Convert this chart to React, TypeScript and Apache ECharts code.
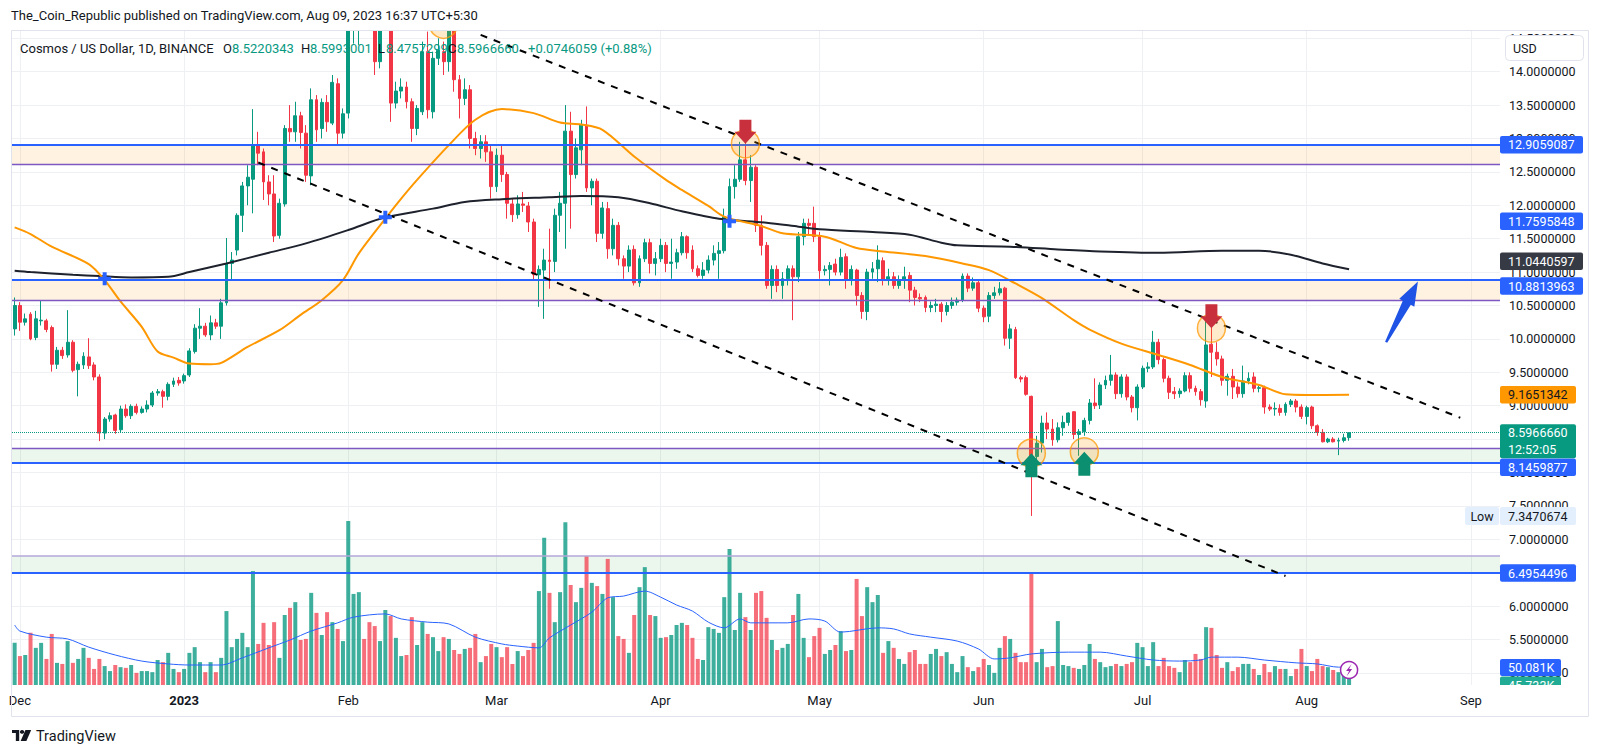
import React, { useEffect, useRef } from 'react';
import * as echarts from 'echarts';

// ---------- categories (one per day) ----------
const FIRST_DAY = '2022-11-30';
const LAST_DAY = '2023-09-06';
function buildDays(first: string, last: string): string[] {
  const out: string[] = [];
  const d = new Date(first + 'T00:00:00Z');
  const end = new Date(last + 'T00:00:00Z');
  while (d.getTime() <= end.getTime()) {
    out.push(d.toISOString().slice(0, 10));
    d.setUTCDate(d.getUTCDate() + 1);
  }
  return out;
}
const days = buildDays(FIRST_DAY, LAST_DAY);
const MONTHS = ['Jan', 'Feb', 'Mar', 'Apr', 'May', 'Jun', 'Jul', 'Aug', 'Sep', 'Oct', 'Nov', 'Dec'];

// ---------- daily candles [open, close, low, high] ----------
const nov22 = [[10.15, 10.5, 10.05, 10.62]];
const dec22 = [
  [10.5, 10.25, 10.12, 10.55], [10.25, 10.3, 10.2, 10.38], [10.37, 10.0, 9.98, 10.4], [10.02, 10.3, 9.98, 10.42],
  [10.27, 10.28, 10.2, 10.58], [10.27, 10.14, 10.1, 10.3], [10.17, 9.62, 9.51, 10.2], [9.62, 9.83, 9.55, 9.88],
  [9.83, 9.75, 9.7, 9.88], [9.76, 9.95, 9.72, 10.43], [9.95, 9.53, 9.5, 9.98], [9.54, 9.62, 9.14, 9.66],
  [9.61, 9.74, 9.55, 9.8], [9.73, 9.6, 9.55, 10.01], [9.61, 9.43, 9.38, 9.65], [9.43, 8.59, 8.47, 9.47],
  [8.59, 8.8, 8.5, 8.83], [8.8, 8.85, 8.76, 8.9], [8.86, 8.63, 8.58, 8.88], [8.64, 8.95, 8.6, 9.0],
  [8.95, 8.85, 8.82, 9.02], [8.85, 8.99, 8.8, 9.02], [8.99, 8.9, 8.87, 9.03], [8.9, 8.95, 8.88, 8.99],
  [8.95, 9.01, 8.9, 9.08], [9.01, 9.19, 8.98, 9.22], [9.19, 9.21, 9.15, 9.25], [9.21, 9.14, 8.97, 9.24],
  [9.14, 9.32, 9.08, 9.35], [9.32, 9.37, 9.28, 9.42], [9.38, 9.34, 9.3, 9.43],
];
const jan23 = [
  [9.37, 9.45, 9.33, 9.48], [9.46, 9.82, 9.43, 9.86], [9.81, 10.16, 9.78, 10.22], [10.16, 10.19, 10.0, 10.46],
  [10.19, 10.06, 10.03, 10.24], [10.06, 10.24, 9.98, 10.35], [10.24, 10.19, 10.15, 10.3], [10.19, 10.54, 10.0, 10.6],
  [10.54, 11.13, 10.5, 11.51], [11.13, 11.18, 10.88, 11.3], [11.33, 11.85, 11.25, 11.88], [11.85, 12.29, 11.6, 12.35],
  [12.29, 12.42, 12.0, 12.6], [12.39, 12.89, 11.88, 13.44], [12.89, 12.78, 12.6, 13.1], [12.8, 12.35, 12.08, 12.85],
  [12.35, 12.17, 12.0, 12.45], [12.17, 11.54, 11.45, 12.45], [11.55, 12.03, 11.5, 12.1], [12.02, 13.15, 11.98, 13.2],
  [13.15, 13.1, 12.95, 13.5], [13.1, 13.34, 12.95, 13.55], [13.34, 13.09, 12.85, 13.4], [13.08, 12.45, 12.35, 13.2],
  [12.44, 13.58, 12.3, 13.75], [13.58, 13.13, 12.95, 13.65], [13.15, 13.54, 13.0, 13.6], [13.54, 13.25, 13.1, 13.65],
  [13.23, 13.84, 13.2, 13.95], [13.82, 13.08, 12.9, 13.9], [13.08, 13.37, 13.0, 13.45],
];
const feb23 = [
  [13.38, 14.7, 13.3, 14.9], [14.7, 14.95, 14.42, 15.1], [14.95, 15.1, 14.4, 15.3], [15.1, 15.05, 14.9, 15.25],
  [15.05, 14.9, 14.75, 15.15], [14.9, 14.15, 13.95, 15.0], [14.15, 14.85, 14.05, 14.95], [14.85, 14.95, 14.7, 15.1],
  [14.95, 13.53, 13.25, 15.0], [13.53, 13.71, 13.45, 13.85], [13.71, 13.77, 13.6, 13.9], [13.77, 13.55, 13.45, 13.85],
  [13.55, 13.15, 12.95, 13.6], [13.15, 13.45, 13.05, 13.5], [13.4, 14.3, 13.35, 14.45], [14.3, 13.43, 13.3, 14.6],
  [13.4, 14.2, 13.3, 14.3], [14.2, 14.32, 14.1, 14.5], [14.3, 14.15, 13.95, 14.45], [14.15, 14.75, 14.0, 15.2],
  [14.75, 13.88, 13.7, 15.0], [13.88, 13.6, 13.3, 13.95], [13.6, 13.73, 13.5, 13.9], [13.73, 13.0, 12.85, 13.8],
  [13.0, 12.85, 12.75, 13.1], [12.85, 12.95, 12.7, 13.05], [12.95, 12.8, 12.65, 13.05], [12.8, 12.28, 12.1, 12.9],
];
const mar23 = [
  [12.28, 12.75, 12.2, 12.85], [12.75, 12.46, 12.35, 12.9], [12.46, 12.03, 11.8, 12.5], [12.02, 11.86, 11.75, 12.1],
  [11.86, 12.02, 11.8, 12.15], [12.02, 12.0, 11.9, 12.2], [11.99, 11.75, 11.6, 12.05], [11.75, 10.96, 10.88, 11.8],
  [10.96, 11.04, 10.48, 11.1], [11.03, 11.18, 10.3, 11.35], [11.18, 11.16, 10.75, 11.65], [11.16, 11.85, 11.0, 11.95],
  [11.85, 12.03, 11.6, 12.2], [12.03, 13.11, 11.35, 13.5], [13.11, 12.46, 11.65, 13.4], [12.46, 12.86, 12.4, 13.0],
  [12.83, 13.2, 12.6, 13.28], [13.2, 12.26, 12.2, 13.48], [12.26, 12.36, 12.0, 12.4], [12.36, 11.58, 11.45, 12.4],
  [11.58, 11.96, 11.5, 12.05], [11.95, 11.35, 11.2, 12.05], [11.35, 11.7, 11.25, 11.8], [11.7, 11.2, 11.1, 11.75],
  [11.2, 11.09, 10.9, 11.25], [11.09, 11.33, 11.0, 11.4], [11.34, 10.84, 10.8, 11.4], [10.84, 11.2, 10.78, 11.25],
  [11.2, 11.44, 11.15, 11.5], [11.44, 11.13, 10.98, 11.5], [11.13, 11.2, 10.95, 11.3],
];
const apr23 = [
  [11.2, 11.4, 11.15, 11.5], [11.4, 11.13, 11.0, 11.45], [11.13, 11.15, 10.9, 11.5], [11.15, 11.29, 11.05, 11.35],
  [11.29, 11.53, 11.25, 11.6], [11.53, 11.29, 11.2, 11.55], [11.33, 11.05, 11.0, 11.4], [11.05, 10.95, 10.92, 11.1],
  [10.95, 11.03, 10.9, 11.15], [11.03, 11.18, 10.98, 11.25], [11.18, 11.28, 11.1, 11.4], [11.28, 11.32, 10.9, 11.45],
  [11.32, 11.83, 11.28, 11.95], [11.83, 12.28, 11.75, 12.4], [12.28, 12.39, 12.1, 12.6], [12.39, 12.68, 12.35, 12.95],
  [12.68, 12.37, 12.3, 13.1], [12.37, 12.57, 12.05, 12.75], [12.57, 11.7, 11.6, 12.6], [11.7, 11.4, 11.25, 11.85],
  [11.4, 10.8, 10.75, 11.45], [10.8, 11.04, 10.6, 11.1], [11.04, 10.8, 10.7, 11.1], [10.8, 10.9, 10.6, 11.0],
  [10.9, 11.05, 10.8, 11.1], [11.05, 10.93, 10.28, 11.1], [10.93, 11.53, 10.85, 11.6], [11.53, 11.73, 11.4, 11.8],
  [11.73, 11.7, 11.55, 11.8], [11.73, 11.53, 11.45, 11.98],
];
const may23 = [
  [11.53, 11.02, 10.9, 11.6], [11.02, 11.04, 10.95, 11.1], [11.04, 11.1, 10.8, 11.15], [11.12, 11.0, 10.95, 11.2],
  [11.0, 11.22, 10.95, 11.35], [11.23, 10.88, 10.75, 11.28], [10.88, 11.04, 10.8, 11.1], [11.03, 10.65, 10.5, 11.05],
  [10.65, 10.41, 10.3, 10.7], [10.41, 11.0, 10.28, 11.05], [11.0, 11.05, 10.9, 11.15], [11.05, 11.18, 10.85, 11.4],
  [11.17, 10.88, 10.8, 11.22], [10.88, 10.93, 10.8, 11.05], [10.93, 10.8, 10.75, 11.0], [10.8, 10.88, 10.75, 10.95],
  [10.88, 10.93, 10.75, 11.08], [10.95, 10.73, 10.55, 11.0], [10.73, 10.62, 10.5, 10.78], [10.62, 10.6, 10.55, 10.68],
  [10.62, 10.47, 10.4, 10.65], [10.47, 10.5, 10.4, 10.56], [10.5, 10.52, 10.4, 10.6], [10.52, 10.41, 10.25, 10.55],
  [10.41, 10.5, 10.35, 10.55], [10.5, 10.55, 10.45, 10.62], [10.55, 10.58, 10.5, 10.62], [10.58, 10.94, 10.55, 10.98],
  [10.94, 10.76, 10.7, 10.98], [10.76, 10.84, 10.72, 10.92], [10.84, 10.46, 10.4, 10.88],
];
const jun23 = [
  [10.46, 10.33, 10.25, 10.5], [10.34, 10.65, 10.25, 10.7], [10.65, 10.69, 10.6, 10.78], [10.69, 10.75, 10.65, 10.85],
  [10.76, 10.01, 9.9, 10.78], [10.01, 10.15, 9.85, 10.22], [10.14, 9.42, 9.4, 10.18], [9.42, 9.4, 9.35, 9.45],
  [9.42, 9.17, 9.15, 9.45], [9.14, 8.24, 7.35, 9.15], [8.24, 8.44, 8.1, 8.55], [8.44, 8.74, 8.3, 8.85],
  [8.74, 8.65, 8.5, 8.9], [8.65, 8.49, 8.4, 8.8], [8.49, 8.67, 8.45, 8.75], [8.67, 8.75, 8.55, 8.85],
  [8.75, 8.89, 8.7, 8.9], [8.91, 8.57, 8.5, 8.92], [8.57, 8.61, 8.25, 8.65], [8.61, 8.78, 8.55, 8.82],
  [8.78, 9.04, 8.72, 9.1], [9.04, 9.0, 8.95, 9.41], [9.01, 9.31, 8.95, 9.35], [9.31, 9.38, 9.25, 9.45],
  [9.38, 9.46, 9.3, 9.76], [9.46, 9.18, 9.1, 9.5], [9.18, 9.43, 9.12, 9.47], [9.43, 9.13, 9.08, 9.47],
  [9.13, 8.97, 8.9, 9.16], [8.97, 9.28, 8.78, 9.32],
];
const jul23 = [
  [9.28, 9.56, 9.25, 9.6], [9.56, 9.58, 9.5, 9.65], [9.58, 9.95, 9.55, 10.12], [9.95, 9.69, 9.62, 10.0],
  [9.69, 9.41, 9.35, 9.72], [9.41, 9.2, 9.1, 9.45], [9.21, 9.18, 9.1, 9.28], [9.18, 9.22, 9.12, 9.26],
  [9.22, 9.45, 9.2, 9.5], [9.45, 9.26, 9.2, 9.5], [9.26, 9.21, 9.15, 9.3], [9.21, 9.09, 9.0, 9.25],
  [9.07, 9.91, 8.97, 10.31], [9.92, 9.8, 9.43, 10.31], [9.8, 9.7, 9.6, 9.95], [9.7, 9.38, 9.3, 9.75],
  [9.38, 9.44, 9.15, 9.48], [9.44, 9.28, 9.1, 9.55], [9.28, 9.18, 9.12, 9.35], [9.18, 9.37, 9.12, 9.6],
  [9.37, 9.41, 9.32, 9.5], [9.43, 9.26, 9.2, 9.5], [9.26, 9.27, 9.2, 9.32], [9.27, 8.98, 8.88, 9.3],
  [8.98, 8.95, 8.92, 9.02], [8.95, 8.96, 8.85, 9.05], [8.96, 8.9, 8.85, 9.02], [8.9, 9.02, 8.85, 9.05],
  [9.02, 9.07, 8.98, 9.1], [9.07, 8.98, 8.9, 9.1], [8.98, 8.84, 8.8, 9.02],
];
const aug23 = [
  [8.84, 8.97, 8.72, 9.0], [8.98, 8.7, 8.65, 9.0], [8.7, 8.6, 8.55, 8.72], [8.6, 8.46, 8.45, 8.65],
  [8.46, 8.5, 8.44, 8.52], [8.5, 8.46, 8.45, 8.53], [8.47, 8.48, 8.26, 8.52], [8.48, 8.52, 8.45, 8.58],
  [8.5220343, 8.596666, 8.4757299, 8.5993001],
];

// ---------- daily volume (thousands) ----------
const volNov22 = [118];
const volDec22 = [81, 84, 146, 104, 118, 73, 143, 62, 59, 123, 62, 73, 104, 76, 45, 73, 53, 39, 56, 50, 48, 56, 34, 39, 39, 36, 70, 64, 90, 45, 36];
const volJan23 = [45, 90, 106, 64, 36, 64, 36, 76, 207, 106, 129, 146, 106, 319, 115, 174, 112, 176, 76, 196, 216, 232, 126, 129, 258, 202, 140, 204, 176, 157, 123];
const volFeb23 = [459, 255, 260, 129, 176, 165, 123, 210, 193, 132, 81, 84, 190, 112, 176, 143, 134, 95, 134, 129, 98, 87, 101, 104, 143, 64, 81, 115];
const volMar23 = [106, 78, 106, 59, 95, 81, 98, 118, 263, 412, 258, 176, 260, 456, 280, 232, 272, 361, 286, 277, 255, 353, 246, 137, 129, 90, 196, 274, 330, 196, 193];
const volApr23 = [132, 134, 140, 168, 174, 168, 132, 73, 70, 162, 157, 146, 246, 381, 154, 258, 190, 154, 258, 263, 188, 126, 98, 104, 115, 196, 255, 132, 78, 137];
const volMay23 = [160, 87, 98, 112, 151, 95, 98, 297, 193, 274, 232, 252, 90, 123, 104, 73, 59, 92, 98, 59, 59, 87, 101, 81, 92, 59, 36, 81, 50, 39, 50];
const volJun23 = [73, 56, 34, 104, 137, 129, 90, 64, 64, 311, 64, 101, 50, 53, 179, 56, 53, 48, 45, 56, 115, 73, 64, 50, 53, 59, 53, 59, 64, 118];
const volJul23 = [106, 53, 120, 53, 76, 53, 48, 36, 70, 64, 87, 73, 162, 160, 84, 48, 64, 39, 50, 59, 59, 45, 28, 59, 36, 53, 45, 45, 25, 45, 101];
const volAug23 = [53, 39, 73, 53, 50, 42, 36, 31, 45.733];

// ---------- moving averages ----------
const ma200 = [
  ['2022-11-30', 11.02], ['2022-12-03', 11.0], ['2022-12-11', 10.96], ['2022-12-16', 10.94], ['2022-12-22', 10.92],
  ['2022-12-29', 10.93], ['2023-01-02', 11.0], ['2023-01-09', 11.13], ['2023-01-17', 11.29], ['2023-01-24', 11.43],
  ['2023-02-01', 11.63], ['2023-02-08', 11.82], ['2023-02-17', 11.95], ['2023-02-23', 12.05], ['2023-03-02', 12.09],
  ['2023-03-11', 12.12], ['2023-03-17', 12.14], ['2023-03-24', 12.12], ['2023-03-30', 12.03], ['2023-04-05', 11.91],
  ['2023-04-12', 11.8], ['2023-04-21', 11.74], ['2023-04-27', 11.68], ['2023-05-01', 11.64], ['2023-05-11', 11.6],
  ['2023-05-18', 11.56], ['2023-05-24', 11.44], ['2023-05-27', 11.4], ['2023-06-06', 11.38], ['2023-06-15', 11.34],
  ['2023-06-23', 11.31], ['2023-07-04', 11.29], ['2023-07-16', 11.32], ['2023-07-23', 11.32], ['2023-07-29', 11.26],
  ['2023-08-04', 11.13], ['2023-08-09', 11.0440597],
];
const ma50 = [
  ['2022-11-30', 11.67], ['2022-12-03', 11.57], ['2022-12-07', 11.38], ['2022-12-14', 11.12], ['2022-12-17', 10.88],
  ['2022-12-20', 10.56], ['2022-12-24', 10.18], ['2022-12-27', 9.81], ['2022-12-30', 9.72], ['2023-01-02', 9.63],
  ['2023-01-06', 9.62], ['2023-01-08', 9.64], ['2023-01-13', 9.88], ['2023-01-19', 10.13], ['2023-01-23', 10.36],
  ['2023-01-27', 10.58], ['2023-01-31', 10.88], ['2023-02-03', 11.28], ['2023-02-08', 11.8], ['2023-02-11', 12.1],
  ['2023-02-14', 12.38], ['2023-02-20', 12.9], ['2023-02-25', 13.28], ['2023-03-02', 13.44], ['2023-03-08', 13.38],
  ['2023-03-13', 13.24], ['2023-03-17', 13.21], ['2023-03-21', 13.13], ['2023-03-27', 12.73], ['2023-04-02', 12.38],
  ['2023-04-05', 12.23], ['2023-04-10', 11.99], ['2023-04-13', 11.83], ['2023-04-20', 11.69], ['2023-04-24', 11.58],
  ['2023-05-02', 11.53], ['2023-05-08', 11.36], ['2023-05-13', 11.31], ['2023-05-21', 11.24], ['2023-05-28', 11.13],
  ['2023-06-02', 11.03], ['2023-06-07', 10.83], ['2023-06-12', 10.61], ['2023-06-18', 10.28], ['2023-06-21', 10.14],
  ['2023-06-27', 9.93], ['2023-07-04', 9.76], ['2023-07-10', 9.61], ['2023-07-16', 9.43], ['2023-07-23', 9.31],
  ['2023-07-28', 9.17], ['2023-08-01', 9.16], ['2023-08-09', 9.1651342],
];
const volumeMa = [
  ['2022-11-30', 168], ['2022-12-01', 151], ['2022-12-06', 134], ['2022-12-10', 129], ['2022-12-14', 106],
  ['2022-12-19', 84], ['2022-12-24', 67], ['2022-12-29', 59], ['2023-01-02', 56], ['2023-01-08', 56],
  ['2023-01-12', 76], ['2023-01-17', 104], ['2023-01-21', 126], ['2023-01-25', 151], ['2023-01-30', 174],
  ['2023-02-02', 190], ['2023-02-08', 199], ['2023-02-11', 185], ['2023-02-16', 176], ['2023-02-20', 171],
  ['2023-02-25', 134], ['2023-03-02', 115], ['2023-03-05', 109], ['2023-03-09', 104], ['2023-03-11', 132],
  ['2023-03-15', 168], ['2023-03-19', 204], ['2023-03-22', 244], ['2023-03-25', 249], ['2023-03-29', 263],
  ['2023-04-01', 246], ['2023-04-04', 224], ['2023-04-07', 207], ['2023-04-10', 176], ['2023-04-13', 160],
  ['2023-04-16', 185], ['2023-04-18', 174], ['2023-04-25', 174], ['2023-04-29', 185], ['2023-05-02', 179],
  ['2023-05-05', 148], ['2023-05-12', 160], ['2023-05-15', 157], ['2023-05-18', 143], ['2023-05-22', 134],
  ['2023-05-27', 123], ['2023-05-31', 101], ['2023-06-03', 73], ['2023-06-06', 76], ['2023-06-10', 87],
  ['2023-06-17', 92], ['2023-06-23', 92], ['2023-06-28', 81], ['2023-07-03', 70], ['2023-07-08', 67],
  ['2023-07-12', 70], ['2023-07-14', 78], ['2023-07-19', 78], ['2023-07-24', 70], ['2023-07-30', 62],
  ['2023-08-03', 59], ['2023-08-07', 50], ['2023-08-09', 50.081],
];

// ---------- drawings ----------
const resistanceLines = [12.9059087, 10.8813963, 8.1459877, 6.4954496];
const zoneEdges = [12.61, 10.58, 8.36, 6.75];
const lastPrice = 8.596666;
const upperTrend = [['2023-02-26', 14.55], ['2023-08-30', 8.82]];
const lowerTrend = [['2023-01-15', 12.64], ['2023-07-28', 6.45]];
const signalCircles = [['2023-02-19', 14.71], ['2023-04-17', 12.92], ['2023-07-14', 10.16], ['2023-06-10', 8.29], ['2023-06-20', 8.31]];
const downArrows = [['2023-04-17', 12.92], ['2023-07-14', 10.16]];
const upArrows = [['2023-06-10', 8.29], ['2023-06-20', 8.31]];
const crossMarks = [['2022-12-17', 10.9], ['2023-02-08', 11.82], ['2023-04-14', 11.76]];
const targetArrow = [['2023-08-16', 9.95], ['2023-08-22', 10.86]];

// ---------- axis ticks and price tags ----------
const priceTicks = [5, 5.5, 6, 6.5, 7, 7.5, 8, 8.5, 9, 9.5, 10, 10.5, 11, 11.5, 12, 12.5, 13, 13.5, 14, 14.5];
const priceTags = [
  { value: 12.9059087, text: '12.9059087', bg: '#2962ff', fg: '#ffffff', shift: 0 },
  { value: 11.7595848, text: '11.7595848', bg: '#2962ff', fg: '#ffffff', shift: 0 },
  { value: 11.0440597, text: '11.0440597', bg: '#363a45', fg: '#ffffff', shift: -8 },
  { value: 10.8813963, text: '10.8813963', bg: '#2962ff', fg: '#ffffff', shift: 6 },
  { value: 9.1651342, text: '9.1651342', bg: '#ff9800', fg: '#131722', shift: 0 },
  { value: 8.1459877, text: '8.1459877', bg: '#2962ff', fg: '#ffffff', shift: 4.5 },
  { value: 6.4954496, text: '6.4954496', bg: '#2962ff', fg: '#ffffff', shift: 0 },
];
const lowValue = 7.3470674;
const volumeMaLast = 50.081;

const UP = '#089981';
const DOWN = '#f23645';
const VOL_UP = 'rgba(8,153,129,0.78)';
const VOL_DOWN = 'rgba(242,54,69,0.72)';
const FONT = 'Roboto, "Noto Sans", sans-serif';

const candles = [...nov22, ...dec22, ...jan23, ...feb23, ...mar23, ...apr23, ...may23, ...jun23, ...jul23, ...aug23];
const volumes = [...volNov22, ...volDec22, ...volJan23, ...volFeb23, ...volMar23, ...volApr23, ...volMay23, ...volJun23, ...volJul23, ...volAug23];
const monthStarts = days.filter((d) => d.endsWith('-01'));

function buildOption(): any {
  const idx = (d: string) => days.indexOf(d);
  const annotations: any[] = [];
  signalCircles.forEach(([d, p]) => annotations.push([idx(d as string), p, 0, 0, 0]));
  downArrows.forEach(([d, p]) => annotations.push([idx(d as string), p, 1, 0, 0]));
  upArrows.forEach(([d, p]) => annotations.push([idx(d as string), p, 2, 0, 0]));
  crossMarks.forEach(([d, p]) => annotations.push([idx(d as string), p, 3, 0, 0]));
  annotations.push([idx(targetArrow[0][0] as string), targetArrow[0][1], 4, idx(targetArrow[1][0] as string), targetArrow[1][1]]);

  const gridLines: any[] = [
    ...priceTicks.map((v) => ({ yAxis: v })),
    ...monthStarts.map((d) => ({ xAxis: d })),
  ];

  return {
    animation: false,
    backgroundColor: '#ffffff',
    grid: { left: 12, right: 100, top: 30, bottom: 70, containLabel: false },
    xAxis: {
      type: 'category',
      data: days,
      boundaryGap: true,
      axisLine: { show: false },
      axisTick: { show: false },
      splitLine: { show: false },
      axisLabel: {
        interval: (_i: number, v: string) => v.endsWith('-01'),
        margin: 9,
        color: '#131722',
        fontSize: 13,
        fontFamily: FONT,
        formatter: (v: string) => {
          const m = parseInt(v.slice(5, 7), 10) - 1;
          if (m === 0) return '{b|' + v.slice(0, 4) + '}';
          return MONTHS[m];
        },
        rich: { b: { fontWeight: 'bold', color: '#131722', fontSize: 13, fontFamily: FONT } },
      },
    },
    yAxis: [
      { type: 'value', min: 4.819, max: 14.624, show: false, scale: true },
      { type: 'value', min: 0, max: 1834, show: false },
    ],
    series: [
      {
        name: 'Volume',
        type: 'bar',
        yAxisIndex: 1,
        barWidth: 4,
        z: 2,
        data: volumes.map((v, i) => ({
          value: v,
          itemStyle: { color: candles[i][1] >= candles[i][0] ? VOL_UP : VOL_DOWN },
        })),
      },
      {
        name: 'Volume MA',
        type: 'line',
        yAxisIndex: 1,
        data: volumeMa,
        smooth: 0.3,
        showSymbol: false,
        z: 3,
        lineStyle: { color: '#2962ff', width: 1 },
      },
      {
        name: 'ATOM',
        type: 'candlestick',
        yAxisIndex: 0,
        data: candles,
        barWidth: 3.4,
        z: 3,
        itemStyle: { color: UP, color0: DOWN, borderColor: UP, borderColor0: DOWN, borderWidth: 1 },
        markArea: {
          silent: true,
          z: 1,
          data: [
            [{ yAxis: resistanceLines[0], itemStyle: { color: 'rgba(255,152,0,0.12)' } }, { yAxis: zoneEdges[0] }],
            [{ yAxis: resistanceLines[1], itemStyle: { color: 'rgba(255,152,0,0.12)' } }, { yAxis: zoneEdges[1] }],
            [{ yAxis: zoneEdges[2], itemStyle: { color: 'rgba(76,175,80,0.11)' } }, { yAxis: resistanceLines[2] }],
            [{ yAxis: zoneEdges[3], itemStyle: { color: 'rgba(76,175,80,0.11)' } }, { yAxis: resistanceLines[3] }],
          ],
        },
        markLine: {
          silent: true,
          symbol: ['none', 'none'],
          label: { show: false },
          data: [
            { yAxis: lastPrice, lineStyle: { color: UP, width: 1, type: 'dotted' } },
            ...zoneEdges.slice(0, 3).map((v) => ({ yAxis: v, lineStyle: { color: '#7e57c2', width: 1.3, type: 'solid' } })),
            { yAxis: zoneEdges[3], lineStyle: { color: '#b3a8d8', width: 1.5, type: 'solid' } },
            ...resistanceLines.map((v) => ({ yAxis: v, lineStyle: { color: '#2962ff', width: 2, type: 'solid' } })),
            [
              { coord: upperTrend[0], lineStyle: { color: '#000000', width: 2, type: [7, 7] } },
              { coord: upperTrend[1] },
            ],
            [
              { coord: lowerTrend[0], lineStyle: { color: '#000000', width: 2, type: [7, 7] } },
              { coord: lowerTrend[1] },
            ],
          ],
        },
      },
      {
        name: 'MA 200',
        type: 'line',
        yAxisIndex: 0,
        data: ma200,
        smooth: 0.3,
        showSymbol: false,
        z: 4,
        lineStyle: { color: '#1e222d', width: 2 },
      },
      {
        name: 'MA 50',
        type: 'line',
        yAxisIndex: 0,
        data: ma50,
        smooth: 0.3,
        showSymbol: false,
        z: 4,
        lineStyle: { color: '#ff9800', width: 2 },
        markLine: {
          silent: true,
          z: 0,
          symbol: ['none', 'none'],
          label: { show: false },
          lineStyle: { color: '#eef0f4', width: 1, type: 'solid' },
          data: gridLines,
        },
      },
      {
        name: 'Drawings',
        type: 'custom',
        yAxisIndex: 0,
        clip: true,
        silent: true,
        z: 10,
        encode: { x: 0, y: 1 },
        data: annotations,
        renderItem: (_params: any, api: any) => {
          const kind = api.value(2);
          const p = api.coord([api.value(0), api.value(1)]);
          const x = p[0];
          const y = p[1];
          if (kind === 0) {
            return {
              type: 'circle',
              shape: { cx: x, cy: y, r: 14 },
              style: { fill: 'rgba(255,152,0,0.2)', stroke: 'rgba(255,152,0,0.75)', lineWidth: 1.5 },
            };
          }
          if (kind === 1 || kind === 2) {
            const s = kind === 1 ? -1 : 1;
            const pts = [[0, 0], [11, 12], [6, 12], [6, 24], [-6, 24], [-6, 12], [-11, 12]].map(([a, b]) => [x + a, y + s * b]);
            return { type: 'polygon', shape: { points: pts }, style: { fill: kind === 1 ? '#c8303d' : '#0b8f70' } };
          }
          if (kind === 3) {
            const a = 6.5;
            const t = 2;
            const pts = [
              [-t, -a], [t, -a], [t, -t], [a, -t], [a, t], [t, t], [t, a], [-t, a], [-t, t], [-a, t], [-a, -t], [-t, -t],
            ].map(([u, v]) => [x + u, y + v]);
            return { type: 'polygon', shape: { points: pts }, style: { fill: '#2962ff' } };
          }
          // kind 4: big target arrow
          const q = api.coord([api.value(3), api.value(4)]);
          const dx = q[0] - x;
          const dy = q[1] - y;
          const L = Math.sqrt(dx * dx + dy * dy);
          const ux = dx / L;
          const uy = dy / L;
          const nx = -uy;
          const ny = ux;
          const hl = 24;
          const bx = q[0] - ux * hl;
          const by = q[1] - uy * hl;
          const pts = [
            [q[0], q[1]],
            [bx + nx * 8.5, by + ny * 8.5],
            [bx + nx * 4.5, by + ny * 4.5],
            [x + nx * 1.2, y + ny * 1.2],
            [x - nx * 1.2, y - ny * 1.2],
            [bx - nx * 4.5, by - ny * 4.5],
            [bx - nx * 8.5, by - ny * 8.5],
          ];
          return { type: 'polygon', shape: { points: pts }, style: { fill: '#1e53e5' } };
        },
      },
    ],
  };
}

function txt(x: number, y: number, text: string, color: string, size: number, opts: any = {}) {
  const align = opts.align || 'left';
  return {
    type: 'text',
    x,
    y,
    z: opts.z || 50,
    silent: true,
    style: {
      text,
      fill: color,
      font: `${opts.weight || 'normal'} ${size}px ${FONT}`,
      textAlign: align,
      align,
      textVerticalAlign: 'middle',
      verticalAlign: 'middle',
    },
  };
}

function buildGraphics(chart: any): any[] {
  const py = (v: number) => chart.convertToPixel({ yAxisIndex: 0 }, v) as number;
  const pyVol = (v: number) => chart.convertToPixel({ yAxisIndex: 1 }, v) as number;
  const px = (d: string) => chart.convertToPixel({ xAxisIndex: 0 }, d) as number;
  const els: any[] = [];

  // white strip above the pane: price bars that run past the top are cut there
  els.push({ type: 'rect', z: 45, silent: true, shape: { x: 0, y: 0, width: 1600, height: 30 }, style: { fill: '#ffffff' } });
  // frame
  els.push({ type: 'rect', z: 46, silent: true, shape: { x: 11.5, y: 30.5, width: 1577, height: 686 }, style: { fill: 'none', stroke: '#e0e3eb', lineWidth: 1 } });

  // header
  els.push(txt(11, 15, 'The_Coin_Republic published on TradingView.com, Aug 09, 2023 16:37 UTC+5:30', '#131722', 13));
  // legend
  const g = UP;
  els.push(txt(20, 48, 'Cosmos / US Dollar, 1D, BINANCE', '#131722', 13));
  els.push(txt(223, 48, 'O', '#131722', 13));
  els.push(txt(232, 48, '8.5220343', g, 13));
  els.push(txt(301, 48, 'H', '#131722', 13));
  els.push(txt(310, 48, '8.5993001', g, 13));
  els.push(txt(378, 48, 'L', '#131722', 13));
  els.push(txt(386, 48, '8.4757299', g, 13));
  els.push(txt(448, 48, 'C', '#131722', 13));
  els.push(txt(457, 48, '8.5966660', g, 13));
  els.push(txt(528, 48, '+0.0746059 (+0.88%)', g, 13));

  // price tags geometry first, so the scale labels that sit fully under a tag are skipped
  const tagBoxes: { cy: number; h: number }[] = [];
  priceTags.forEach((t) => tagBoxes.push({ cy: py(t.value) + t.shift, h: 17.5 }));
  const lp = py(lastPrice);
  tagBoxes.push({ cy: lp + 8.5, h: 34 });
  tagBoxes.push({ cy: 47.5, h: 25 }); // USD box
  const covered = (y: number) => tagBoxes.some((b) => Math.abs(y - b.cy) < b.h / 2 - 5);

  // price scale tick labels
  priceTicks.forEach((v) => {
    const y = py(v);
    if (!covered(y)) els.push(txt(1509, y, v.toFixed(7), '#131722', 12.5, { z: 50 }));
  });

  // USD box
  els.push({ type: 'rect', z: 55, silent: true, shape: { x: 1505.5, y: 35.5, width: 78, height: 25, r: 4 }, style: { fill: '#ffffff', stroke: '#e0e3eb', lineWidth: 1 } });
  els.push(txt(1513, 48, 'USD', '#131722', 12.5, { z: 56 }));

  // price tags
  const tag = (cy: number, w: number, h: number, bg: string, lines: string[], fg: string, x = 1500) => {
    els.push({ type: 'rect', z: 60, silent: true, shape: { x, y: cy - h / 2, width: w, height: h, r: 2 }, style: { fill: bg } });
    lines.forEach((t, i) => els.push(txt(x + 8, cy - h / 2 + (i + 0.5) * (h / lines.length), t, fg, 12.5, { z: 61 })));
  };
  priceTags.forEach((t) => tag(py(t.value) + t.shift, t.text.length >= 10 ? 83 : 76, 17.5, t.bg, [t.text], t.fg));
  // last price + countdown
  tag(lp + 8.5, 76, 34, UP, ['8.5966660', '12:52:05'], '#ffffff');
  // Low marker
  const ly = py(lowValue);
  els.push({ type: 'rect', z: 60, silent: true, shape: { x: 1465, y: ly - 9, width: 34, height: 18, r: 2 }, style: { fill: '#e3effd' } });
  els.push(txt(1482, ly, 'Low', '#131722', 12.5, { z: 61, align: 'center' }));
  tag(ly, 76, 18, '#e3effd', ['7.3470674'], '#131722');
  // volume tags
  const vy = pyVol(volumeMaLast);
  tag(vy + 0.5, 61, 17, '#2962ff', ['50.081K'], '#ffffff');
  tag(vy + 18, 61, 17, '#22ab94', ['45.733K'], '#ffffff');
  els.push({ type: 'rect', z: 62, silent: true, shape: { x: 1498, y: 685, width: 88, height: 14 }, style: { fill: '#ffffff' } });

  // events icon
  const ex = px('2023-08-09');
  els.push({ type: 'circle', z: 30, silent: true, shape: { cx: ex, cy: 670, r: 8.5 }, style: { fill: '#ffffff', stroke: '#9c27b0', lineWidth: 1.5 } });
  els.push({
    type: 'polygon', z: 31, silent: true,
    shape: { points: [[ex + 2.5, 664], [ex - 3, 671], [ex, 671], [ex - 2.5, 676.5], [ex + 3, 669], [ex, 669]] },
    style: { fill: '#9c27b0' },
  });

  // TradingView logo
  els.push({
    type: 'group', x: 12, y: 730, z: 50, silent: true, scaleX: 0.48, scaleY: 0.42,
    children: [
      { type: 'polygon', shape: { points: [[0, 0], [15, 0], [15, 26], [8, 26], [8, 7], [0, 7]] }, style: { fill: '#131722' } },
      { type: 'circle', shape: { cx: 21, cy: 4.5, r: 4.5 }, style: { fill: '#131722' } },
      { type: 'polygon', shape: { points: [[28, 0], [40, 0], [30, 26], [18, 26]] }, style: { fill: '#131722' } },
    ],
  });
  els.push(txt(36, 736, 'TradingView', '#131722', 14.5));

  return els;
}

export default function App() {
  const ref = useRef<HTMLDivElement | null>(null);
  useEffect(() => {
    if (!ref.current) return;
    const chart = echarts.init(ref.current, null, { renderer: 'svg' });
    chart.setOption(buildOption());
    chart.setOption({ graphic: buildGraphics(chart) });
    return () => chart.dispose();
  }, []);
  return (
    <div
      ref={ref}
      style={{ position: 'absolute', left: 0, top: 0, width: 1600, height: 755, background: '#ffffff' }}
    />
  );
}
